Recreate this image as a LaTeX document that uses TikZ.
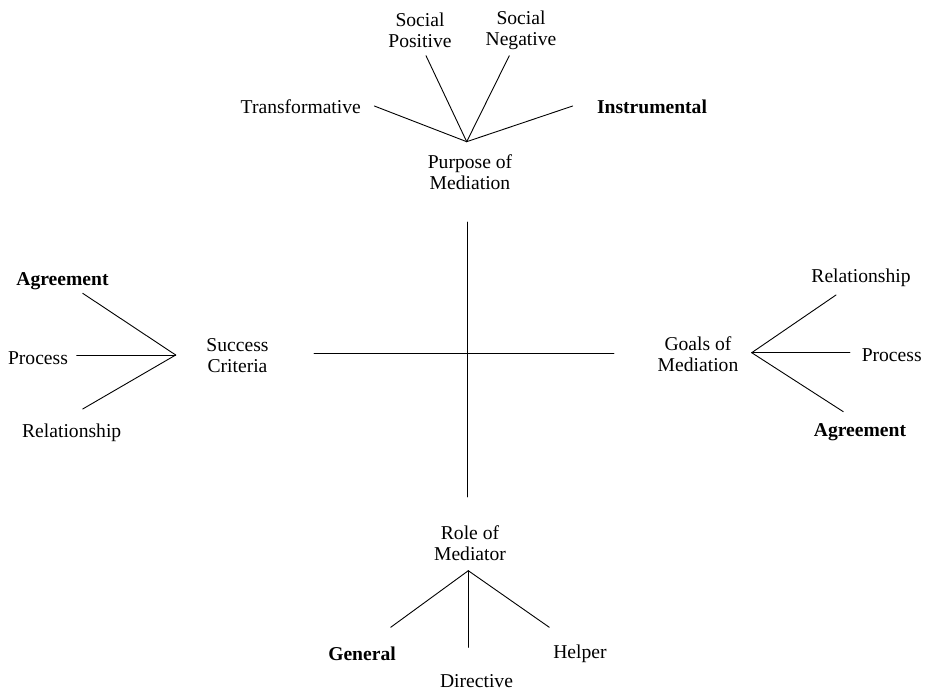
\documentclass[tikz,border=0pt]{standalone}
\usepackage{fontspec}
\setmainfont{Liberation Serif}
\tikzset{
  lbl/.style={font=\fontsize{19.6}{21}\selectfont,align=center,inner sep=0pt},
  blbl/.style={lbl,font=\fontsize{19.6}{21}\selectfont\bfseries},
  spoke/.style={line width=0.9pt,line cap=round}
}
\begin{document}
\begin{tikzpicture}[x=1pt,y=-1pt]
\useasboundingbox (0,0) rectangle (926,692);
\coordinate (cN) at (467,222);
\coordinate (cS) at (467,497);
\coordinate (cW) at (314,353);
\coordinate (cE) at (614,353);
\draw[spoke] (cN) -- (cS);
\draw[spoke] (cW) -- (cE);
% purpose
\coordinate (hubP) at (466.7,141.7);
\coordinate (pT) at (374.3,106);
\coordinate (pSP) at (426,55.7);
\coordinate (pSN) at (509.3,55.7);
\coordinate (pI) at (572.7,106);
\node[lbl] (purpose) at (470,172) {Purpose of\\Mediation};
\node[lbl] (transf) at (300.8,107) {Transformative};
\node[lbl] (socpos) at (420,30) {Social\\Positive};
\node[lbl] (socneg) at (521,30) {Social\\Negative};
\node[blbl] (instr) at (652,107) {Instrumental};
\foreach \e in {pT,pSP,pSN,pI} \draw[spoke] (hubP) -- (\e);
% success
\coordinate (hubS) at (175.7,355);
\coordinate (sA) at (82.7,293.3);
\coordinate (sP) at (76.7,355);
\coordinate (sR) at (82.7,409);
\node[lbl] (success) at (237.5,356) {Success\\Criteria};
\node[blbl] (sagree) at (62.5,281) {Agreement};
\node[lbl] (sproc) at (38,358) {Process};
\node[lbl] (srel) at (71.7,433) {Relationship};
\foreach \e in {sA,sP,sR} \draw[spoke] (hubS) -- (\e);
% goals
\coordinate (hubG) at (751.7,352.7);
\coordinate (gR) at (836,295);
\coordinate (gP) at (850,352.7);
\coordinate (gA) at (843.3,411.7);
\node[lbl] (goals) at (698,354) {Goals of\\Mediation};
\node[lbl] (grel) at (861,278) {Relationship};
\node[lbl] (gproc) at (891.7,355) {Process};
\node[blbl] (gagree) at (860,432) {Agreement};
\foreach \e in {gR,gP,gA} \draw[spoke] (hubG) -- (\e);
% role
\coordinate (hubR) at (468.3,570.7);
\coordinate (rG) at (390.7,627.3);
\coordinate (rD) at (468.3,647.3);
\coordinate (rH) at (549.3,627.3);
\node[lbl] (role) at (470,543) {Role of\\Mediator};
\node[blbl] (general) at (362,654) {General};
\node[lbl] (direct) at (476.5,681) {Directive};
\node[lbl] (helper) at (580,654) {Helper};
\foreach \e in {rG,rD,rH} \draw[spoke] (hubR) -- (\e);
\end{tikzpicture}
\end{document}
